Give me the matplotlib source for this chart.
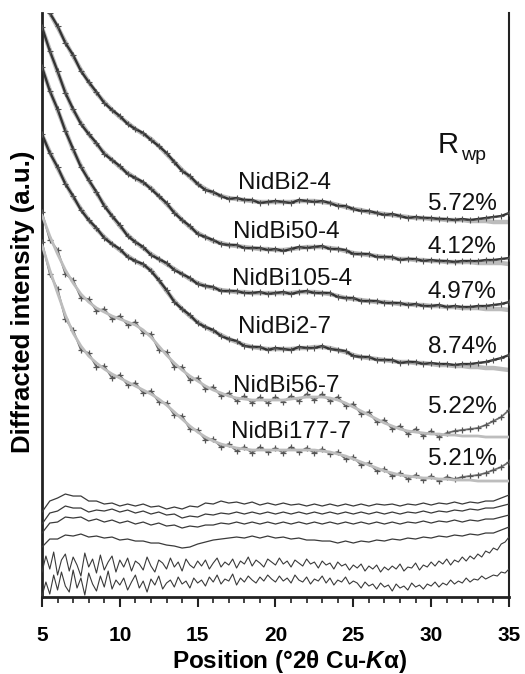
import numpy as np
import matplotlib
matplotlib.use("Agg")
import matplotlib.pyplot as plt

plt.rcParams['font.family'] = ['Liberation Sans', 'DejaVu Sans']
plt.rcParams['mathtext.fontset'] = 'custom'
plt.rcParams['mathtext.rm'] = 'Liberation Sans:bold'
plt.rcParams['mathtext.it'] = 'Liberation Sans:bold:italic'

# ---------------- data (arbitrary intensity units) ----------------
two_theta = np.linspace(5, 35, 61)        # 0.5 deg grid
two_theta_fine = np.linspace(5, 35, 121)  # 0.25 deg grid

samples = ["NidBi2-4", "NidBi50-4", "NidBi105-4", "NidBi2-7", "NidBi56-7", "NidBi177-7"]
rwp = ["5.72%", "4.12%", "4.97%", "8.74%", "5.22%", "5.21%"]

calc1 = [620,587,573,558,544,530,518,507,498,490, 483,477,471,466,461,454,446,438,430,423,
         416,411,407,404,402,401,400,399,398,398, 398,398,398,399,399,399,398,397,395,393,
         391,390,388,387,386,385,384,383,382,382, 381,381,380,380,380,379,379,379,378,378, 378]
obs1 = [621,587,574,557,545,529,518,508,497,490, 484,476,471,467,460,454,447,438,429,424,
        416,410,408,404,401,402,400,400,397,398, 399,398,397,400,399,398,399,397,394,394,
        391,389,389,387,385,386,384,382,383,382, 382,381,381,380,381,380,381,382,383,384, 387]

calc2 = [572,550,528,508,490,477,466,456,447,440, 433,427,422,417,412,404,396,388,380,373,
         367,363,359,357,355,354,353,352,351,351, 350,350,351,352,353,353,353,352,351,349,
         347,346,345,344,343,342,341,341,340,340, 339,339,338,338,338,338,337,337,337,337, 336]
obs2 = [573,549,529,507,491,476,466,457,446,440, 434,426,422,418,411,404,397,387,380,374,
        366,363,360,356,355,355,352,352,352,350, 351,349,351,353,352,353,354,351,351,350,
        346,346,346,343,343,343,340,341,341,339, 340,339,339,338,339,339,339,340,340,341, 342]

calc3 = [532,510,490,470,450,434,420,407,395,384, 374,365,358,352,346,341,336,331,326,321,
         317,314,312,310,309,308,308,307,307,307, 307,307,307,308,308,308,307,306,304,302,
         301,300,299,298,298,297,296,296,295,295, 294,294,293,293,292,292,292,291,291,291, 290]
obs3 = [533,509,491,469,451,433,420,408,394,384, 375,364,358,353,345,341,337,330,326,322,
        316,314,313,309,309,309,307,307,308,306, 307,308,306,308,309,307,307,307,303,302,
        302,299,299,299,297,297,297,295,296,294, 294,295,293,294,293,293,294,294,295,296, 298]

calc4 = [465,448,432,417,403,391,380,371,363,356, 350,344,339,335,330,320,309,299,291,284,
         278,273,269,265,261,258,255,253,252,251, 251,251,251,252,252,253,253,252,250,248,
         245,243,242,241,240,239,238,238,237,237, 236,235,235,234,234,233,233,232,232,231, 230]
obs4 = [466,447,433,416,404,390,380,372,362,356, 351,343,339,336,329,320,310,298,291,285,
        277,273,270,264,261,259,254,253,253,250, 252,251,250,253,252,252,254,251,250,249,
        244,243,243,240,240,240,237,238,238,236, 237,236,236,235,236,236,237,238,240,242, 245]

calc5 = [385,364,346,330,317,306,298,292,288,284, 281,278,275,270,263,254,245,237,230,224,
         219,214,210,207,204,202,201,200,200,200, 200,200,201,202,203,203,203,202,200,197,
         193,189,185,181,177,174,171,169,168,167, 166,166,165,165,164,164,164,163,163,163, 163]
obs5 = [388,360,350,326,320,302,301,289,291,281, 284,275,278,267,266,250,248,233,233,220,
        222,211,213,204,207,199,204,197,203,197, 203,198,204,199,206,200,206,199,203,194,
        196,186,188,178,180,171,174,166,171,164, 169,163,167,169,170,171,172,175,179,183, 190]

calc6 = [355,330,307,285,267,254,244,237,231,226, 222,218,214,210,206,201,195,188,181,174,
         168,163,159,156,154,152,151,150,150,150, 150,150,150,150,150,150,149,148,146,144,
         141,138,135,132,129,127,125,124,123,122, 122,121,121,120,120,120,119,119,119,119, 119]
obs6 = [358,326,311,281,270,250,247,233,234,222, 225,215,217,207,209,198,197,185,184,171,
        170,160,161,153,156,149,153,147,153,148, 152,147,153,148,152,147,151,146,148,141,
        143,135,137,129,131,124,127,121,125,120, 124,119,123,121,123,124,125,127,130,133, 138]

# difference curves (offset, scaled)
diff1 = [88,99,102,106,104,104,99,99,96,97, 94,96,94,96,93,94,91,93,91,94,
         93,97,96,99,97,98,96,98,95,97, 95,97,95,96,94,96,94,96,94,96,
         94,96,94,96,95,96,94,96,95,97, 95,97,96,98,96,98,97,99,99,102, 105]
diff2 = [76,87,89,94,92,92,88,90,89,91, 88,90,87,89,86,88,85,86,82,84,
         83,86,85,87,86,88,86,88,86,88, 86,88,86,88,86,88,86,88,86,88,
         86,88,86,88,86,88,86,88,87,89, 87,89,88,90,89,91,90,92,92,94, 96]
diff3 = [67,77,78,83,82,83,79,81,78,80, 77,79,76,78,75,77,74,75,72,74,
         73,75,75,77,76,78,76,78,76,78, 76,78,76,78,76,78,76,78,76,78,
         76,78,76,78,76,78,76,78,77,79, 77,79,78,80,78,80,79,81,81,83, 85]
diff4 = [53,61,61,65,64,66,63,64,62,63, 60,61,59,59,57,57,55,54,52,53,
         56,58,60,61,62,63,62,64,62,64, 62,63,61,62,60,60,59,59,57,59,
         57,59,58,60,59,61,60,62,61,63, 62,64,63,65,64,66,65,67,67,70, 73]
diff5 = [28,44,31,48,25,40,46,29,43,35,24,47,33,41,27,45,30,38,44,28,40,
         33,42,29,39,36,30,43,34,28,40,37,31,42,33,38,29,41,35,32,39,
         34,40,31,37,42,33,38,35,41,32,39,36,43,34,40,37,33,41,38,35,
         42,36,39,33,40,37,34,41,36,38,32,39,35,37,31,38,34,36,30,35,
         32,36,29,34,31,35,28,33,30,34,31,36,29,33,32,37,30,35,33,38,
         34,39,36,41,35,40,38,43,39,44,41,46,43,49,47,52,50,56,58,63]
diff6 = [4,18,6,25,10,28,14,8,30,12,22,5,27,16,9,24,13,29,11,20,15,
         22,10,18,25,12,19,8,21,15,24,11,17,20,13,23,16,19,12,22,17,
         20,14,23,18,25,16,21,19,26,15,22,18,24,20,17,23,19,25,21,18,
         24,19,22,17,25,20,18,23,16,21,19,24,17,22,15,20,18,23,16,19,
         17,12,18,14,16,11,17,13,15,9,16,12,14,10,17,13,15,11,16,14,
         18,13,17,15,20,16,19,17,22,18,21,20,24,21,23,25,24,28,27,31]

calcs = [calc1, calc2, calc3, calc4, calc5, calc6]
obss = [obs1, obs2, obs3, obs4, obs5, obs6]
diffs_coarse = [diff1, diff2, diff3, diff4]
diffs_fine = [diff5, diff6]

# label anchor positions (x in 2theta, y in a.u., baseline)
label_x = [20.6, 20.7, 21.05, 20.6, 20.7, 21.0]
label_y = [411, 362, 315, 267, 208, 162]
rwp_x = 34.2
rwp_y = [390, 347, 302, 247, 187, 135]

# ---------------- figure ----------------
fig = plt.figure(figsize=(5.25, 6.74), dpi=100)
ax = fig.add_axes([0.080, 0.1142, 0.8895, 0.8665])

for i, (c, o) in enumerate(zip(calcs, obss)):
    if i < 4:
        ax.plot(two_theta, c, color='#bcbcbc', lw=3.2, zorder=2, solid_capstyle='round')
        ax.plot(two_theta, o, color='#333333', lw=1.7, zorder=3)
        ax.plot(two_theta, o, ls='none', marker='+', ms=4.5, mew=0.8, color='#505050', zorder=3)
    else:
        ax.plot(two_theta, o, color='#6e6e6e', lw=1.3, zorder=2)
        ax.plot(two_theta, o, ls='none', marker='+', ms=5, mew=0.9, color='#555555', zorder=3)
        ax.plot(two_theta, c, color='#bdbdbd', lw=2.0, zorder=4, solid_capstyle='round')

for d in diffs_coarse:
    ax.plot(two_theta, d, color='#3a3a3a', lw=0.9, zorder=3)
for d in diffs_fine:
    ax.plot(two_theta_fine, d, color='#3a3a3a', lw=0.8, zorder=3)

for name, lx, ly in zip(samples, label_x, label_y):
    ax.text(lx, ly, name, ha='center', va='baseline', fontsize=17.5, color='#111111', zorder=5)
for r, ry in zip(rwp, rwp_y):
    ax.text(rwp_x, ry, r, ha='right', va='baseline', fontsize=17.5, color='#111111', zorder=5)

ax.text(30.4, 447, 'R', ha='left', va='baseline', fontsize=21, color='#111111')
ax.text(31.9, 440, 'wp', ha='left', va='baseline', fontsize=14, color='#111111')

ax.set_xlim(5, 35)
ax.set_ylim(3, 587)
ax.set_yticks([])
ax.set_xticks([5, 10, 15, 20, 25, 30, 35])
ax.set_xticks(np.arange(5, 36, 1), minor=True)
ax.tick_params(axis='x', which='major', direction='out', length=7, width=1.5,
               pad=14, labelsize=15, color='#222222')
ax.tick_params(axis='x', which='minor', direction='out', length=4, width=1.2, color='#222222')
for lab in ax.get_xticklabels():
    lab.set_fontweight('bold')

ax.spines['top'].set_visible(False)
ax.spines['left'].set_linewidth(2.0)
ax.spines['bottom'].set_linewidth(2.0)
ax.spines['right'].set_linewidth(1.5)
for s in ['left', 'bottom', 'right']:
    ax.spines[s].set_color('#222222')

ax.set_xlabel(r'Position (°2θ Cu-$\mathit{K}$α)', fontsize=17.5, fontweight='bold', labelpad=0)
ax.xaxis.set_label_coords(0.531, -0.087)
ax.set_ylabel('Diffracted intensity (a.u.)', fontsize=18.5, fontweight='bold')
ax.yaxis.set_label_coords(-0.014, 0.506)

fig.savefig('out.png', dpi=100)
